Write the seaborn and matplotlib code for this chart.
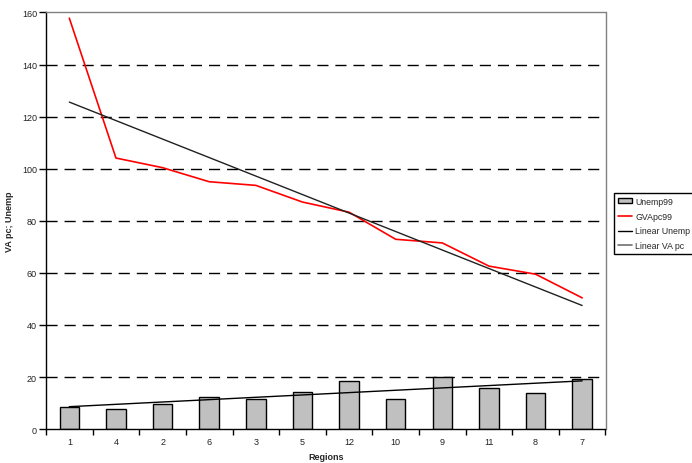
import numpy as np
import pandas as pd
from matplotlib import pyplot as plt
from matplotlib.patches import Patch
from matplotlib.lines import Line2D
import seaborn as sns

# values, regions in plotted order
regions = ['1', '4', '2', '6', '3', '5', '12', '10', '9', '11', '8', '7']
unemp99 = [8.6, 7.6, 9.6, 12.3, 11.7, 14.2, 18.5, 11.7, 20.0, 15.8, 13.7, 19.2]
gvapc99 = [157.8, 104.1, 100.4, 95.0, 93.6, 87.2, 83.3, 72.9, 71.5, 62.6, 59.5, 50.4]
y_ticks = [0, 20, 40, 60, 80, 100, 120, 140, 160]

df = pd.DataFrame({'region': regions, 'Unemp99': unemp99, 'GVApc99': gvapc99})
df['pos'] = np.arange(len(df))

sns.set_style('white')
plt.rcParams['font.family'] = ['Liberation Sans', 'DejaVu Sans']

fig, ax = plt.subplots(figsize=(6.92, 4.64), dpi=100)
fig.subplots_adjust(left=0.0665, right=0.875, top=0.971, bottom=0.073)

# dashed grid behind everything
for yv in y_ticks[1:-1]:
    ax.axhline(yv, c='k', lw=1, ls=(0, (8, 5)), zorder=0)

sns.barplot(data=df, x='region', y='Unemp99', order=regions, color='#c0c0c0',
            edgecolor='k', linewidth=1, width=0.42, saturation=1, ax=ax, zorder=2)
sns.lineplot(data=df, x='pos', y='GVApc99', color='red', lw=1.2, ax=ax, zorder=3)

# linear trend lines (least squares, like the spreadsheet trendline)
k_u, b_u = np.polyfit(df['pos'], df['Unemp99'], 1)
k_v, b_v = np.polyfit(df['pos'], df['GVApc99'], 1)
xs = np.array([df['pos'].min(), df['pos'].max()])
ax.plot(xs, k_u * xs + b_u, c='k', lw=1, zorder=4)
ax.plot(xs, k_v * xs + b_v, c='#202020', lw=1, zorder=4)

ax.set_xlim(-0.5, len(regions) - 0.5)
ax.set_ylim(0, 160)
ax.set_yticks(y_ticks)
ax.set_xticks(df['pos'], regions)
ax.set_xticks(np.arange(-0.5, len(regions)), minor=True)
ax.tick_params(axis='x', which='major', length=0, pad=6, labelsize=6.5, labelcolor='#222222')
ax.tick_params(axis='x', which='minor', length=4, width=1, color='k', direction='out', bottom=True)
ax.tick_params(axis='y', length=5, width=1, color='k', direction='out', left=True,
               labelsize=6.5, labelcolor='#222222', pad=1.5)

for side in ['left', 'bottom']:
    ax.spines[side].set_color('k')
    ax.spines[side].set_linewidth(1)
for side in ['top', 'right']:
    ax.spines[side].set_visible(True)
    ax.spines[side].set_color('#808080')
    ax.spines[side].set_linewidth(1)

ax.set_xlabel('Regions', fontsize=6.5, fontweight='bold', labelpad=4)
ax.set_ylabel('VA pc; Unemp', fontsize=6.5, fontweight='bold', labelpad=6)

handles = [Patch(facecolor='#c0c0c0', edgecolor='k', lw=1),
           Line2D([], [], c='red', lw=1.2),
           Line2D([], [], c='k', lw=1),
           Line2D([], [], c='#707070', lw=1.2)]
labels = ['Unemp99', 'GVApc99', 'Linear Unemp', 'Linear VA pc']
leg = fig.legend(handles, labels, loc='center left', bbox_to_anchor=(614 / 692, 1 - 224.5 / 464),
                 fontsize=6.3, frameon=True, fancybox=False, edgecolor='k', framealpha=1,
                 handlelength=1.6, handleheight=0.5, handletextpad=0.4, labelspacing=0.65,
                 borderpad=0.45, borderaxespad=0)
leg.get_frame().set_linewidth(1)

fig.savefig('out.png', dpi=100)
plt.close('all')
